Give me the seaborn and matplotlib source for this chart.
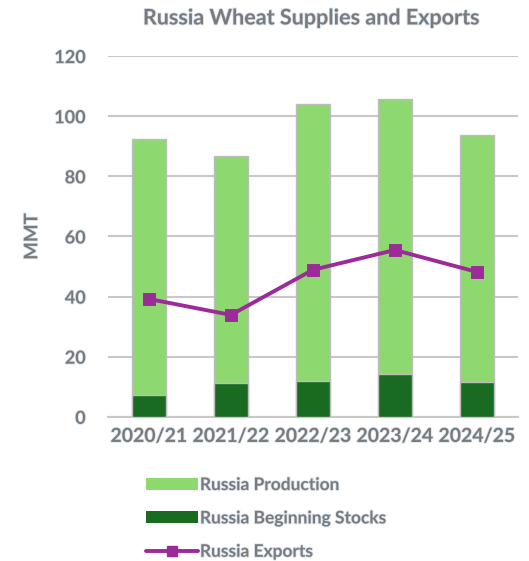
import matplotlib
matplotlib.use("Agg")
import matplotlib.pyplot as plt
import matplotlib.patheffects as pe
from matplotlib.patches import Patch
from matplotlib.lines import Line2D
import seaborn as sns
import pandas as pd

years = ["2020/21", "2021/22", "2022/23", "2023/24", "2024/25"]
beginning_stocks = [7.3, 11.3, 12.0, 14.3, 11.6]
production = [85.1, 75.5, 92.0, 91.4, 82.1]
exports = [39.2, 33.9, 48.9, 55.5, 48.2]
yticks = [0, 20, 40, 60, 80, 100, 120]

light_green = "#8ed870"
dark_green = "#1a6b22"
purple = "#9c2a99"
text_gray = "#7a7a7a"
grid_gray = "#c8c8c8"

sns.set_theme(style="white")
plt.rcParams["font.family"] = ["Lato", "DejaVu Sans"]

df = pd.DataFrame({"year": years, "stocks": beginning_stocks,
                   "production": production, "exports": exports})
df["total"] = df["stocks"] + df["production"]

fig = plt.figure(figsize=(5.29, 5.61), dpi=100)
ax = fig.add_axes([0.204, 0.257, 0.775, 0.643])

fx = [pe.withStroke(linewidth=1.2, foreground="#d8e4f0")]

sns.barplot(data=df, x="year", y="total", color=light_green, width=0.41,
            edgecolor="#bdbdbd", linewidth=1, saturation=1, ax=ax, zorder=2)
sns.barplot(data=df, x="year", y="stocks", color=dark_green, width=0.41,
            edgecolor="#bdbdbd", linewidth=1, saturation=1, ax=ax, zorder=3)
sns.pointplot(data=df, x="year", y="exports", color=purple, markers="s",
              markersize=7, linewidth=2.8, ax=ax, zorder=4)

ax.set_ylim(0, 120)
ax.set_xlim(-0.5, 4.5)
ax.set_yticks(yticks)
ax.yaxis.grid(True, color=grid_gray, linewidth=1.5)
ax.set_axisbelow(True)
for s in ["top", "right", "left"]:
    ax.spines[s].set_visible(False)
ax.spines["bottom"].set_color(grid_gray)
ax.spines["bottom"].set_linewidth(1.5)
ax.tick_params(axis="both", length=0)
ax.tick_params(axis="y", pad=16, labelsize=13, labelcolor=text_gray)
ax.tick_params(axis="x", pad=8, labelsize=14, labelcolor=text_gray)
for lab in ax.get_xticklabels() + ax.get_yticklabels():
    lab.set_fontweight("bold")
    lab.set_path_effects(fx)
ax.set_xlabel("")
ax.set_ylabel("MMT", fontsize=13.5, color=text_gray, fontweight="bold",
              labelpad=10, path_effects=fx)

fig.text(0.588, 0.968, "Russia Wheat Supplies and Exports", ha="center",
         va="center", fontsize=15.5, color=text_gray, fontweight="bold",
         path_effects=fx)

handles = [Patch(facecolor=light_green, edgecolor="none"),
           Patch(facecolor=dark_green, edgecolor="none"),
           Line2D([0], [0], color=purple, linewidth=2.8, marker="s",
                  markersize=7)]
labels = ["Russia Production", "Russia Beginning Stocks", "Russia Exports"]
leg = fig.legend(handles, labels, loc="upper left",
                 bbox_to_anchor=(0.263, 0.162), frameon=False,
                 fontsize=12.5, labelspacing=1.0, handlelength=3.0,
                 handleheight=0.7, handletextpad=0.1, borderaxespad=0)
for t in leg.get_texts():
    t.set_color(text_gray)
    t.set_fontweight("bold")
    t.set_path_effects(fx)

fig.savefig("out.png", dpi=100)
